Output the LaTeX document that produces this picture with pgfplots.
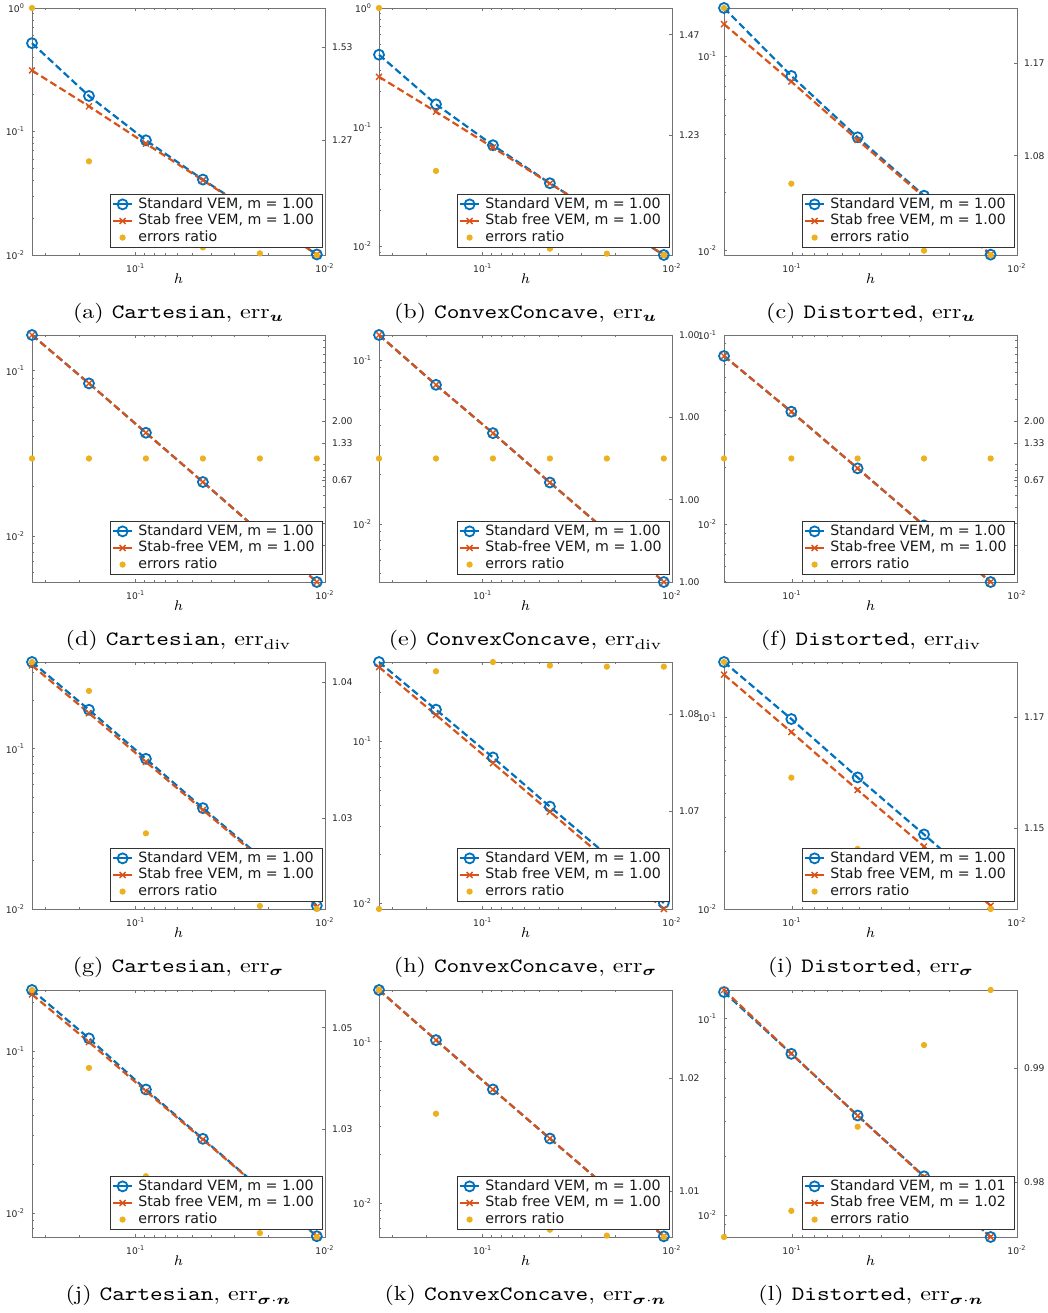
\documentclass[border=0pt]{standalone}
\usepackage{amsmath}
\usepackage{graphicx}
\usepackage{fontspec}
\setsansfont{DejaVu Sans}
\usepackage{pgfplots}
\pgfplotsset{compat=1.18}
\definecolor{mblue}{rgb}{0,0.447,0.741}
\definecolor{morange}{rgb}{0.85,0.325,0.098}
\definecolor{myellow}{rgb}{0.929,0.694,0.125}
\definecolor{axgray}{rgb}{0.45,0.45,0.45}
\pgfplotsset{
  every axis/.append style={scale only axis, width=146.5pt, height=123.5pt, clip=false,
    x dir=reverse, xmin=0.01,
    tick align=inside, major tick length=1.6pt, minor tick length=1pt,
    tick label style={font=\fontsize{4.6}{5}\selectfont\sffamily, text=black!85},
    scaled y ticks=false},
  myleg/.style={legend image code/.code={\draw[mark repeat=2,mark phase=2,##1,solid] plot coordinates {(0pt,0pt) (4.75pt,0pt) (9.5pt,0pt)};\path (11.5pt,0pt);}},
  leftax/.style={ytick pos=left, xtick pos=both,
    axis line style={draw=axgray, line width=0.35pt},
    tick style={draw=axgray, line width=0.3pt},
    xtick={0.01,0.1}, xticklabels={10\textsuperscript{-2},10\textsuperscript{-1}},
    minor xtick={0.02,0.03,0.04,0.05,0.06,0.07,0.08,0.09,0.2,0.3},
    ytick={0.01,0.1,1}, yticklabels={10\textsuperscript{-2},10\textsuperscript{-1},10\textsuperscript{0}},
    minor ytick={0.002,0.003,0.004,0.005,0.006,0.007,0.008,0.009,0.02,0.03,0.04,0.05,0.06,0.07,0.08,0.09,0.2,0.3,0.4,0.5,0.6,0.7,0.8,0.9},
    xticklabel shift=1pt,
    xlabel={$h$}, xlabel style={font=\fontsize{7.5}{8}\selectfont, at={(axis description cs:0.5,-0.0972)}, anchor=center}},
  rightax/.style={axis x line=none, axis y line*=right,
    axis line style={draw=axgray, line width=0.35pt},
    tick style={draw=axgray, line width=0.3pt},
    myleg,
    legend style={at={(0.992,0.0296)}, anchor=south east, draw=black!80, line width=0.4pt, fill=white,
      font=\fontsize{7.1}{8}\selectfont\sffamily, text=black!90,
      inner xsep=1pt, inner ysep=0.7pt, row sep=0pt,
      nodes={inner sep=0.55pt, text height=5.6pt, text depth=1.6pt}},
    legend cell align=left},
  bluel/.style={color=mblue, line width=1.1pt, dash pattern=on 3.6pt off 1.8pt, mark=o, mark size=2.5pt, mark options={solid, line width=0.9pt}},
  orl/.style={color=morange, line width=1.1pt, dash pattern=on 3.6pt off 1.8pt, mark=x, mark size=2.1pt, mark options={solid, line width=0.7pt}},
  rat/.style={only marks, mark=*, color=myellow, mark size=1.35pt, myleg},
}
\tikzset{capnode/.style={anchor=base, font=\fontsize{10.2}{12}\selectfont, inner sep=0pt}}
\newcommand{\capt}[1]{\scalebox{1.18}[1]{#1}}
\newcommand{\legA}[3]{\addlegendimage{bluel}\addlegendentry{Standard VEM, m = #1\hspace*{2.7pt}}\addlegendimage{orl}\addlegendentry{#3 VEM, m = #2}}
\begin{document}
\begin{tikzpicture}
\useasboundingbox (0,0) rectangle (524pt,656.5pt);
% ---------------- (a)
\begin{loglogaxis}[leftax, at={(16pt,529pt)}, xmax=0.353553, ymin=0.01, ymax=1]
\addplot[bluel] coordinates {(0.353553,0.519) (0.176777,0.194) (0.088388,0.0849) (0.044194,0.0408) (0.022097,0.0204) (0.011049,0.0101)};
\addplot[orl] coordinates {(0.353553,0.312) (0.176777,0.160) (0.088388,0.0798) (0.044194,0.0403) (0.022097,0.0202) (0.011049,0.0101)};
\end{loglogaxis}
\begin{loglogaxis}[rightax, at={(16pt,529pt)}, xmax=0.353553, ymin=1.0096, ymax=1.6548, ytick={1.27,1.53}, yticklabels={1.27,1.53}]
\legA{1.00}{1.00}{Stab free}
\addplot[rat] coordinates {(0.353553,1.6548) (0.176777,1.2177) (0.088388,1.064) (0.044194,1.0251) (0.022097,1.0129) (0.011049,1.0096)};
\addlegendentry{errors ratio}
\end{loglogaxis}
\node[capnode] at (89.25pt,497pt) {\capt{(a) \texttt{Cartesian}, $\mathrm{err}_{\boldsymbol{u}}$}};
% ---------------- (b)
\begin{loglogaxis}[leftax, at={(189.5pt,529pt)}, xmax=0.353553, ymin=0.00851, ymax=1]
\addplot[bluel] coordinates {(0.353553,0.406) (0.176777,0.156) (0.088388,0.0708) (0.044194,0.0340) (0.022097,0.0170) (0.011049,0.00851)};
\addplot[orl] coordinates {(0.353553,0.265) (0.176777,0.135) (0.088388,0.0677) (0.044194,0.0338) (0.022097,0.0170) (0.011049,0.00851)};
\end{loglogaxis}
\begin{loglogaxis}[rightax, at={(189.5pt,529pt)}, xmax=0.353553, ymin=0.99318, ymax=1.5417, ytick={1.23,1.47}, yticklabels={1.23,1.47}]
\legA{1.00}{1.00}{Stab free}
\addplot[rat] coordinates {(0.353553,1.5417) (0.176777,1.1535) (0.088388,1.046) (0.044194,1.0045) (0.022097,0.99554) (0.011049,0.99318)};
\addlegendentry{errors ratio}
\end{loglogaxis}
\node[capnode] at (262.75pt,497pt) {\capt{(b) \texttt{ConvexConcave}, $\mathrm{err}_{\boldsymbol{u}}$}};
% ---------------- (c)
\begin{loglogaxis}[leftax, at={(362pt,529pt)}, xmax=0.2006, ymin=0.0095, ymax=0.178]
\addplot[bluel] coordinates {(0.2006,0.178) (0.1007,0.0795) (0.0511,0.0384) (0.0259,0.0192) (0.0131,0.00954)};
\addplot[orl] coordinates {(0.2006,0.147) (0.1007,0.0743) (0.0511,0.0372) (0.0259,0.0189) (0.0131,0.00954)};
\end{loglogaxis}
\begin{loglogaxis}[rightax, at={(362pt,529pt)}, xmax=0.2006, ymin=0.9912, ymax=1.2270, ytick={1.08,1.17}, yticklabels={1.08,1.17}]
\legA{1.00}{1.00}{Stab free}
\addplot[rat] coordinates {(0.2006,1.2270) (0.1007,1.0542) (0.0511,1.03) (0.0259,0.99492) (0.0131,0.9912)};
\addlegendentry{errors ratio}
\end{loglogaxis}
\node[capnode] at (435.5pt,497pt) {\capt{(c) \texttt{Distorted}, $\mathrm{err}_{\boldsymbol{u}}$}};
% ---------------- (d)
\begin{loglogaxis}[leftax, at={(16pt,365.5pt)}, xmax=0.353553, ymin=0.00526, ymax=0.1645]
\addplot[bluel] coordinates {(0.353553,0.1645) (0.176777,0.0838) (0.088388,0.0421) (0.044194,0.0212) (0.022097,0.0106) (0.011049,0.00526)};
\addplot[orl] coordinates {(0.353553,0.1645) (0.176777,0.0838) (0.088388,0.0421) (0.044194,0.0212) (0.022097,0.0106) (0.011049,0.00526)};
\end{loglogaxis}
\begin{loglogaxis}[rightax, at={(16pt,365.5pt)}, xmax=0.353553, ymin=0.1, ymax=10, ytick={0.6667,1.3333,2}, yticklabels={0.67,1.33,2.00},
  minor ytick={0.2,0.3,0.4,0.5,0.6,0.7,0.8,0.9,2,3,4,5,6,7,8,9}]
\legA{1.00}{1.00}{Stab-free}
\addplot[rat] coordinates {(0.353553,1) (0.176777,1) (0.088388,1) (0.044194,1) (0.022097,1) (0.011049,1)};
\addlegendentry{errors ratio}
\end{loglogaxis}
\node[capnode] at (89.25pt,333.5pt) {\capt{(d) \texttt{Cartesian}, $\mathrm{err}_{\mathrm{div}}$}};
% ---------------- (e)
\begin{loglogaxis}[leftax, at={(189.5pt,365.5pt)}, xmax=0.353553, ymin=0.00443, ymax=0.1419]
\addplot[bluel] coordinates {(0.353553,0.1419) (0.176777,0.0705) (0.088388,0.0358) (0.044194,0.0179) (0.022097,0.0090) (0.011049,0.00443)};
\addplot[orl] coordinates {(0.353553,0.1419) (0.176777,0.0705) (0.088388,0.0358) (0.044194,0.0179) (0.022097,0.0090) (0.011049,0.00443)};
\end{loglogaxis}
\begin{semilogxaxis}[rightax, at={(189.5pt,365.5pt)}, xmax=0.353553, ymin=0.9997, ymax=1.0003, ytick={0.9997,0.9999,1.0001,1.0003}, yticklabels={1.00,1.00,1.00,1.00}]
\legA{1.00}{1.00}{Stab-free}
\addplot[rat] coordinates {(0.353553,1) (0.176777,1) (0.088388,1) (0.044194,1) (0.022097,1) (0.011049,1)};
\addlegendentry{errors ratio}
\end{semilogxaxis}
\node[capnode] at (262.75pt,333.5pt) {\capt{(e) \texttt{ConvexConcave}, $\mathrm{err}_{\mathrm{div}}$}};
% ---------------- (f)
\begin{loglogaxis}[leftax, at={(362pt,365.5pt)}, xmax=0.2006, ymin=0.00498, ymax=0.1]
\addplot[bluel] coordinates {(0.2006,0.0775) (0.1007,0.0394) (0.0511,0.0198) (0.0259,0.0099) (0.0131,0.00498)};
\addplot[orl] coordinates {(0.2006,0.0775) (0.1007,0.0394) (0.0511,0.0198) (0.0259,0.0099) (0.0131,0.00498)};
\end{loglogaxis}
\begin{loglogaxis}[rightax, at={(362pt,365.5pt)}, xmax=0.2006, ymin=0.1, ymax=10, ytick={0.6667,1.3333,2}, yticklabels={0.67,1.33,2.00},
  minor ytick={0.2,0.3,0.4,0.5,0.6,0.7,0.8,0.9,2,3,4,5,6,7,8,9}]
\legA{1.00}{1.00}{Stab-free}
\addplot[rat] coordinates {(0.2006,1) (0.1007,1) (0.0511,1) (0.0259,1) (0.0131,1)};
\addlegendentry{errors ratio}
\end{loglogaxis}
\node[capnode] at (435.5pt,333.5pt) {\capt{(f) \texttt{Distorted}, $\mathrm{err}_{\mathrm{div}}$}};
% ---------------- (g)
\begin{loglogaxis}[leftax, at={(16pt,202pt)}, xmax=0.353553, ymin=0.01, ymax=0.3476]
\addplot[bluel] coordinates {(0.353553,0.3476) (0.176777,0.175) (0.088388,0.0865) (0.044194,0.0426) (0.022097,0.0213) (0.011049,0.0105)};
\addplot[orl] coordinates {(0.353553,0.331) (0.176777,0.1668) (0.088388,0.0828) (0.044194,0.0415) (0.022097,0.0208) (0.011049,0.0103)};
\end{loglogaxis}
\begin{loglogaxis}[rightax, at={(16pt,202pt)}, xmax=0.353553, ymin=1.02339, ymax=1.04148, ytick={1.03,1.04}, yticklabels={1.03,1.04}]
\legA{1.00}{1.00}{Stab free}
\addplot[rat] coordinates {(0.353553,1.04148) (0.176777,1.03933) (0.088388,1.0289) (0.044194,1.026) (0.022097,1.02363) (0.011049,1.02339)};
\addlegendentry{errors ratio}
\end{loglogaxis}
\node[capnode] at (89.25pt,170pt) {\capt{(g) \texttt{Cartesian}, $\mathrm{err}_{\boldsymbol{\sigma}}$}};
% ---------------- (h)
\begin{loglogaxis}[leftax, at={(189.5pt,202pt)}, xmax=0.353553, ymin=0.00918, ymax=0.310]
\addplot[bluel] coordinates {(0.353553,0.310) (0.176777,0.1573) (0.088388,0.0796) (0.044194,0.0395) (0.022097,0.0198) (0.011049,0.0100)};
\addplot[orl] coordinates {(0.353553,0.2885) (0.176777,0.1459) (0.088388,0.0734) (0.044194,0.0367) (0.022097,0.0184) (0.011049,0.00918)};
\end{loglogaxis}
\begin{loglogaxis}[rightax, at={(189.5pt,202pt)}, xmax=0.353553, ymin=1.06003, ymax=1.08537, ytick={1.07,1.08}, yticklabels={1.07,1.08}]
\legA{1.00}{1.00}{Stab free}
\addplot[rat] coordinates {(0.353553,1.06003) (0.176777,1.08443) (0.088388,1.08537) (0.044194,1.08502) (0.022097,1.08492) (0.011049,1.08492)};
\addlegendentry{errors ratio}
\end{loglogaxis}
\node[capnode] at (262.75pt,170pt) {\capt{(h) \texttt{ConvexConcave}, $\mathrm{err}_{\boldsymbol{\sigma}}$}};
% ---------------- (i)
\begin{loglogaxis}[leftax, at={(362pt,202pt)}, xmax=0.2006, ymin=0.01, ymax=0.1945]
\addplot[bluel] coordinates {(0.2006,0.1945) (0.1007,0.098) (0.0511,0.0486) (0.0259,0.0245) (0.0131,0.0122)};
\addplot[orl] coordinates {(0.2006,0.167) (0.1007,0.0838) (0.0511,0.0418) (0.0259,0.0212) (0.0131,0.0104)};
\end{loglogaxis}
\begin{loglogaxis}[rightax, at={(362pt,202pt)}, xmax=0.2006, ymin=1.1356, ymax=1.18009, ytick={1.15,1.17}, yticklabels={1.15,1.17}]
\legA{1.00}{1.00}{Stab free}
\addplot[rat] coordinates {(0.2006,1.18009) (0.1007,1.15904) (0.0511,1.14624) (0.0259,1.140) (0.0131,1.1356)};
\addlegendentry{errors ratio}
\end{loglogaxis}
\node[capnode] at (435.5pt,170pt) {\capt{(i) \texttt{Distorted}, $\mathrm{err}_{\boldsymbol{\sigma}}$}};
% ---------------- (j)
\begin{loglogaxis}[leftax, at={(16pt,38pt)}, xmax=0.353553, ymin=0.0071, ymax=0.2384]
\addplot[bluel] coordinates {(0.353553,0.2384) (0.176777,0.1198) (0.088388,0.0579) (0.044194,0.0287) (0.022097,0.0143) (0.011049,0.00718)};
\addplot[orl] coordinates {(0.353553,0.224) (0.176777,0.1137) (0.088388,0.0566) (0.044194,0.0284) (0.022097,0.0142) (0.011049,0.00718)};
\end{loglogaxis}
\begin{loglogaxis}[rightax, at={(16pt,38pt)}, xmax=0.353553, ymin=1.0093, ymax=1.05751, ytick={1.03,1.05}, yticklabels={1.03,1.05}]
\legA{1.00}{1.00}{Stab free}
\addplot[rat] coordinates {(0.353553,1.05751) (0.176777,1.04207) (0.088388,1.02095) (0.044194,1.015) (0.022097,1.01006) (0.011049,1.0093)};
\addlegendentry{errors ratio}
\end{loglogaxis}
\node[capnode] at (89.25pt,6pt) {\capt{(j) \texttt{Cartesian}, $\mathrm{err}_{\boldsymbol{\sigma}\cdot\boldsymbol{n}}$}};
% ---------------- (k)
\begin{loglogaxis}[leftax, at={(189.5pt,38pt)}, xmax=0.353553, ymin=0.00615, ymax=0.2094]
\addplot[bluel] coordinates {(0.353553,0.2094) (0.176777,0.1024) (0.088388,0.0506) (0.044194,0.0251) (0.022097,0.0125) (0.011049,0.00621)};
\addplot[orl] coordinates {(0.353553,0.2094) (0.176777,0.1024) (0.088388,0.0506) (0.044194,0.0251) (0.022097,0.0125) (0.011049,0.00621)};
\end{loglogaxis}
\begin{loglogaxis}[rightax, at={(189.5pt,38pt)}, xmax=0.353553, ymin=1.00596, ymax=1.02796, ytick={1.01,1.02}, yticklabels={1.01,1.02}]
\legA{1.00}{1.00}{Stab free}
\addplot[rat] coordinates {(0.353553,1.02796) (0.176777,1.01688) (0.088388,1.009) (0.044194,1.00661) (0.022097,1.00608) (0.011049,1.00596)};
\addlegendentry{errors ratio}
\end{loglogaxis}
\node[capnode] at (262.75pt,6pt) {\capt{(k) \texttt{ConvexConcave}, $\mathrm{err}_{\boldsymbol{\sigma}\cdot\boldsymbol{n}}$}};
% ---------------- (l)
\begin{loglogaxis}[leftax, at={(362pt,38pt)}, xmax=0.2006, ymin=0.00776, ymax=0.140]
\addplot[bluel] coordinates {(0.2006,0.1367) (0.1007,0.0663) (0.0511,0.0322) (0.0259,0.0158) (0.0131,0.00776)};
\addplot[orl] coordinates {(0.2006,0.140) (0.1007,0.0665) (0.0511,0.0321) (0.0259,0.0157) (0.0131,0.00776)};
\end{loglogaxis}
\begin{loglogaxis}[rightax, at={(362pt,38pt)}, xmax=0.2006, ymin=0.97526, ymax=0.99685, ytick={0.98,0.99}, yticklabels={0.98,0.99}]
\legA{1.01}{1.02}{Stab free}
\addplot[rat] coordinates {(0.2006,0.97526) (0.1007,0.97754) (0.0511,0.98483) (0.0259,0.992) (0.0131,0.99685)};
\addlegendentry{errors ratio}
\end{loglogaxis}
\node[capnode] at (435.5pt,6pt) {\capt{(l) \texttt{Distorted}, $\mathrm{err}_{\boldsymbol{\sigma}\cdot\boldsymbol{n}}$}};
\end{tikzpicture}
\end{document}
